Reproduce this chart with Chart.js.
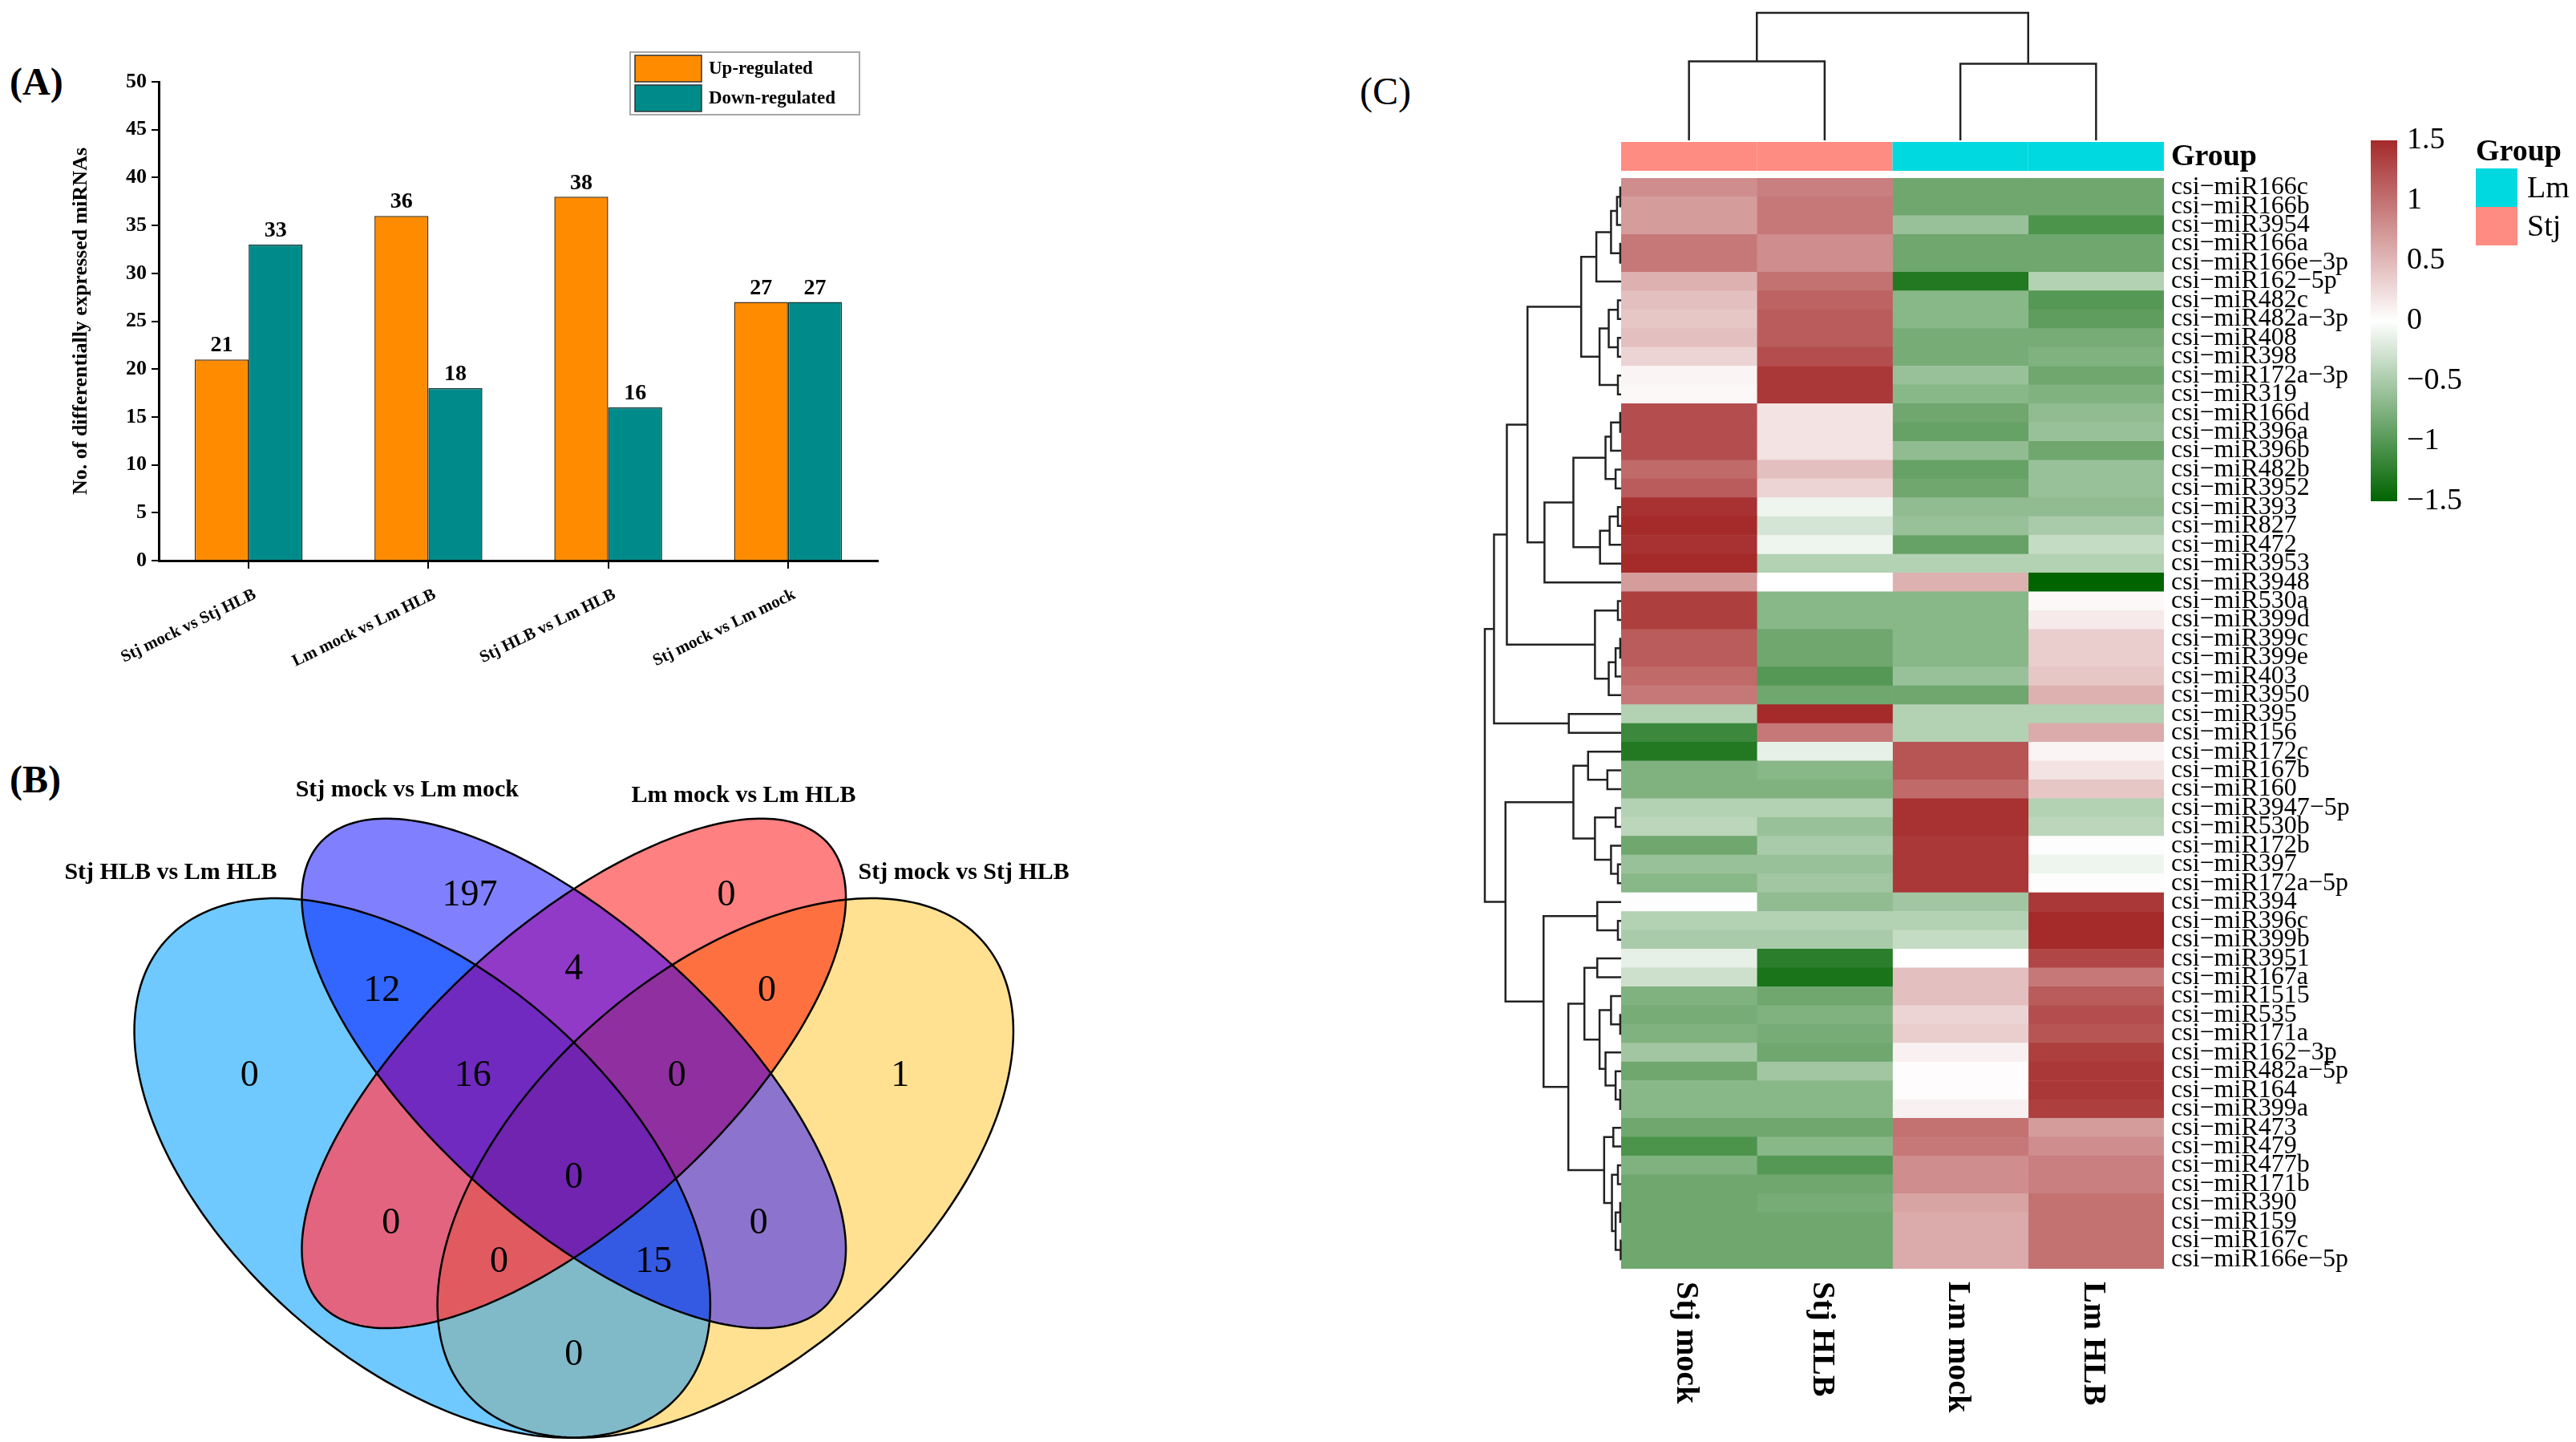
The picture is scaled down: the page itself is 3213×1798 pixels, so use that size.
<!DOCTYPE html>
<html>
<head>
<meta charset="utf-8">
<script src="https://cdn.jsdelivr.net/npm/chart.js@4.4.1/dist/chart.umd.min.js"></script>
<style>
  html, body { margin: 0; padding: 0; background: #fff; }
  body { width: 3213px; height: 1798px; position: relative; overflow: hidden;
         font-family: "Liberation Serif", "Times New Roman", serif; }
  canvas { position: absolute; }
  .tag { position: absolute; font-size: 48px; line-height: 1; color: #000; }
</style>
</head>
<body>
<div class="tag" style="left:12px;top:78px;font-weight:bold">(A)</div>
<div class="tag" style="left:12px;top:948px;font-weight:bold">(B)</div>
<div class="tag" style="left:1696px;top:90px">(C)</div>

<canvas id="barChart" width="1130" height="900" style="left:0;top:0;width:1130px;height:900px"></canvas>
<canvas id="vennChart" width="1400" height="898" style="left:0;top:900px;width:1400px;height:898px"></canvas>
<canvas id="heatChart" width="1613" height="1798" style="left:1600px;top:0;width:1613px;height:1798px"></canvas>

<script>
const SERIF = '"Liberation Serif", "Times New Roman", serif';
Chart.defaults.font.family = SERIF;
Chart.defaults.color = "#000";

// ---- (A) bar chart data
const comparisons = ["Stj mock vs Stj HLB", "Lm mock vs Lm HLB", "Stj HLB vs Lm HLB", "Stj mock vs Lm mock"];
const upRegulated = [21, 36, 38, 27];
const downRegulated = [33, 18, 16, 27];

// ---- (B) venn data
const vennSets = ["Stj HLB vs Lm HLB", "Stj mock vs Lm mock", "Lm mock vs Lm HLB", "Stj mock vs Stj HLB"];
const vennRegions = ["B", "P", "R", "Y", "BP", "PR", "RY", "BPR", "PRY", "BPRY", "BR", "PY", "BRY", "BPY", "BY"];
const vennCounts = [0, 197, 0, 1, 12, 4, 0, 16, 0, 0, 0, 0, 0, 15, 0];

// ---- (C) heatmap data
const sampleLabels = ["Stj mock", "Stj HLB", "Lm mock", "Lm HLB"];
const sampleGroups = ["Stj", "Stj", "Lm", "Lm"];
const rowLabels = ["csi-miR166c","csi-miR166b","csi-miR3954","csi-miR166a","csi-miR166e-3p","csi-miR162-5p",
  "csi-miR482c","csi-miR482a-3p","csi-miR408","csi-miR398","csi-miR172a-3p","csi-miR319","csi-miR166d",
  "csi-miR396a","csi-miR396b","csi-miR482b","csi-miR3952","csi-miR393","csi-miR827","csi-miR472","csi-miR3953",
  "csi-miR3948","csi-miR530a","csi-miR399d","csi-miR399c","csi-miR399e","csi-miR403","csi-miR3950","csi-miR395",
  "csi-miR156","csi-miR172c","csi-miR167b","csi-miR160","csi-miR3947-5p","csi-miR530b","csi-miR172b","csi-miR397",
  "csi-miR172a-5p","csi-miR394","csi-miR396c","csi-miR399b","csi-miR3951","csi-miR167a","csi-miR1515","csi-miR535",
  "csi-miR171a","csi-miR162-3p","csi-miR482a-5p","csi-miR164","csi-miR399a","csi-miR473","csi-miR479","csi-miR477b",
  "csi-miR171b","csi-miR390","csi-miR159","csi-miR167c","csi-miR166e-5p"];
const stjMock = [0.8,0.7,0.7,0.95,0.95,0.55,0.45,0.4,0.45,0.3,0.08,0.05,
  1.25,1.25,1.25,1.05,1.15,1.45,1.5,1.45,1.5,0.7,
  1.35,1.35,1.15,1.15,1.05,0.95,
  -0.45,-1.15,-1.3,-0.75,-0.75,-0.45,-0.4,-0.85,-0.6,-0.7,
  -0.02,-0.45,-0.5,-0.15,-0.3,-0.75,-0.8,-0.75,-0.55,-0.85,-0.7,-0.7,
  -0.85,-1.05,-0.75,-0.85,-0.85,-0.85,-0.85,-0.85];
const stjHLB = [0.9,0.95,0.95,0.8,0.8,1.0,1.1,1.15,1.15,1.25,1.4,1.4,
  0.2,0.2,0.2,0.45,0.3,-0.1,-0.25,-0.1,-0.45,0.0,
  -0.7,-0.7,-0.85,-0.85,-1.0,-0.85,
  1.5,0.95,-0.15,-0.7,-0.75,-0.45,-0.6,-0.5,-0.6,-0.55,
  -0.65,-0.45,-0.5,-1.25,-1.35,-0.85,-0.75,-0.8,-0.85,-0.55,-0.7,-0.7,
  -0.85,-0.7,-1.0,-0.85,-0.8,-0.85,-0.85,-0.85];
const lmMock = [-0.85,-0.85,-0.6,-0.85,-0.85,-1.3,-0.7,-0.7,-0.8,-0.8,-0.6,-0.7,
  -0.85,-0.9,-0.65,-0.9,-0.85,-0.65,-0.6,-0.9,-0.45,0.55,
  -0.7,-0.7,-0.7,-0.7,-0.6,-0.85,
  -0.45,-0.45,1.2,1.2,1.05,1.45,1.45,1.4,1.4,1.4,
  -0.55,-0.45,-0.35,0.0,0.45,0.45,0.3,0.35,0.1,0.02,0.02,0.1,
  1.0,0.95,0.8,0.8,0.65,0.6,0.6,0.6];
const lmHLB = [-0.85,-0.85,-1.05,-0.85,-0.85,-0.45,-1.0,-0.95,-0.8,-0.75,-0.85,-0.75,
  -0.65,-0.6,-0.85,-0.6,-0.6,-0.65,-0.5,-0.35,-0.45,-1.5,
  0.05,0.15,0.35,0.35,0.4,0.55,
  -0.45,0.6,0.08,0.2,0.4,-0.45,-0.4,-0.02,-0.1,-0.02,
  1.4,1.5,1.5,1.3,0.95,1.15,1.25,1.2,1.35,1.4,1.4,1.35,
  0.7,0.8,0.9,0.9,1.0,1.0,1.0,1.0];
const colorbarTicks = [1.5, 1, 0.5, 0, -0.5, -1, -1.5];

// row clustering: [height, left, right], leaves are row indexes
const rowTree = [297,
  [277,
    [249,
      [204,
        [87,
          [54, [22, [9, [2, 0, 1], 2], [2, 3, 4]], 5],
          [47, [27, [7, 6, 7], [7, 8, 9]], [7, 10, 11]]],
        [167,
          [104,
            [34, [22, [2, 12, 13], 14], [12, 15, 16]],
            [46, [25, [7, 17, 18], 19], 20]],
          21]],
      [57, [7, 22, 23], [27, [12, [2, 24, 25], 26], 27]]],
    [114, 28, 29]],
  [252,
    [104,
      [72, 30, [30, 31, 32]],
      [57, [12, 33, 34], [22, 35, [7, 36, 37]]]],
    [169,
      [52, 38, [7, 39, 40]],
      [115,
        [80, [52, 41, 42], [47, [22, 43, [2, 44, 45]], [34, 46, [12, 47, [2, 48, 49]]]]],
        [37, [17, 50, 51], [20, [7, 52, 53], [12, [2, 54, 55], [1, 56, 57]]]]]]]];
const colTree = [1.0, [0.62, 0, 1], [0.6, 2, 3]];

// ---------- (A)
const barLegend = {
  id: "barLegend",
  afterDraw(chart) {
    const ctx = chart.ctx;
    ctx.save();
    ctx.strokeStyle = "#a8a8a8";
    ctx.lineWidth = 2;
    ctx.strokeRect(786, 65, 286, 78);
    chart.data.datasets.forEach((ds, i) => {
      const y = 69 + i * 37;
      ctx.fillStyle = ds.backgroundColor;
      ctx.fillRect(792, y, 83, 33);
      ctx.strokeStyle = "#333";
      ctx.lineWidth = 1.5;
      ctx.strokeRect(792, y, 83, 33);
      ctx.fillStyle = "#000";
      ctx.font = "bold 23px " + SERIF;
      ctx.textBaseline = "middle";
      ctx.fillText(ds.label, 884, y + 17);
    });
    ctx.restore();
  },
};

const barValues = {
  id: "barValues",
  afterDatasetsDraw(chart) {
    const ctx = chart.ctx;
    ctx.save();
    ctx.font = "bold 28px " + SERIF;
    ctx.fillStyle = "#000";
    ctx.textAlign = "center";
    ctx.textBaseline = "bottom";
    chart.data.datasets.forEach((ds, i) => {
      chart.getDatasetMeta(i).data.forEach((bar, j) => ctx.fillText(ds.data[j], bar.x, bar.y - 3));
    });
    ctx.restore();
  },
};

new Chart(document.getElementById("barChart"), {
  type: "bar",
  data: {
    labels: comparisons,
    datasets: [
      { label: "Up-regulated", data: upRegulated, backgroundColor: "#FF8C00", borderColor: "#4a3010", borderWidth: 1.5 },
      { label: "Down-regulated", data: downRegulated, backgroundColor: "#008B8B", borderColor: "#103838", borderWidth: 1.5 },
    ],
  },
  options: {
    responsive: false,
    animation: false,
    devicePixelRatio: 1,
    layout: { padding: { top: 102, right: 35, left: 0, bottom: 0 } },
    datasets: { bar: { categoryPercentage: 0.6, barPercentage: 1.0 } },
    plugins: { legend: { display: false }, tooltip: { enabled: false } },
    scales: {
      x: {
        grid: { display: true, drawOnChartArea: false, offset: false, tickLength: 10, color: "#000", lineWidth: 2 },
        border: { color: "#000", width: 3 },
        ticks: { autoSkip: false, minRotation: 26, maxRotation: 26, padding: 20, labelOffset: 8,
                 font: { size: 21, weight: "bold" }, color: "#000" },
        afterFit(s) { s.height = 201; },
      },
      y: {
        min: 0, max: 50,
        ticks: { stepSize: 5, padding: 6, font: { size: 26, weight: "bold" }, color: "#000" },
        grid: { display: true, drawOnChartArea: false, tickLength: 9, color: "#000", lineWidth: 2 },
        border: { color: "#000", width: 3 },
        title: { display: true, text: "No. of differentially expressed miRNAs",
                 font: { size: 26, weight: "bold" }, color: "#000", padding: { top: 86, bottom: 0 } },
        afterFit(s) { s.width = 198; },
      },
    },
  },
  plugins: [barValues, barLegend],
});

// ---------- (B)
// ellipse geometry in unit space, keyed by set letter
const vennEllipses = {
  B: { cx: 0.35, cy: 0.47, a: 0.35, b: 0.20, rot: -45 },
  P: { cx: 0.50, cy: 0.57, a: 0.35, b: 0.15, rot: -45 },
  R: { cx: 0.50, cy: 0.57, a: 0.35, b: 0.15, rot: 45 },
  Y: { cx: 0.65, cy: 0.47, a: 0.35, b: 0.20, rot: 45 },
};
const vennSetKeys = ["B", "P", "R", "Y"];
const regionFill = {
  B: "#6FC9FF", P: "#8080FF", R: "#FF8080", Y: "#FFE191",
  BP: "#3366FF", PR: "#913AC8", RY: "#FF7040", BR: "#E2647F", PY: "#8C73CD", BY: "#80B9C8",
  BPR: "#702AC0", PRY: "#9030A0", BRY: "#E05A60", BPY: "#345AE4", BPRY: "#7024B0",
};
const vennLabelPos = [[0.179,0.567],[0.397,0.758],[0.651,0.758],[0.823,0.567],[0.310,0.657],[0.50,0.680],
  [0.691,0.657],[0.40,0.567],[0.602,0.567],[0.50,0.459],[0.319,0.411],[0.683,0.411],[0.426,0.370],
  [0.579,0.370],[0.50,0.272]];
const vennSetLabelPos = [[0.101, 0.782], [0.335, 0.869], [0.668, 0.863], [0.886, 0.782]];

const vennPlugin = {
  id: "venn",
  afterDatasetsDraw(chart) {
    const { ctx, scales: { x, y } } = chart;
    const path = (e) => {
      const r = (e.rot * Math.PI) / 180;
      ctx.beginPath();
      for (let k = 0; k <= 240; k++) {
        const t = (k / 240) * 2 * Math.PI;
        const u = e.cx + e.a * Math.cos(t) * Math.cos(r) - e.b * Math.sin(t) * Math.sin(r);
        const v = e.cy + e.a * Math.cos(t) * Math.sin(r) + e.b * Math.sin(t) * Math.cos(r);
        const px = x.getPixelForValue(u), py = y.getPixelForValue(v);
        if (k) ctx.lineTo(px, py); else ctx.moveTo(px, py);
      }
      ctx.closePath();
    };
    // paint each region: intersection of its sets, fewer sets first
    const order = [...vennRegions].sort((a, b) => a.length - b.length);
    order.forEach((reg) => {
      ctx.save();
      reg.split("").forEach((k) => { path(vennEllipses[k]); ctx.clip(); });
      ctx.fillStyle = regionFill[reg];
      ctx.fillRect(0, 0, chart.width, chart.height);
      ctx.restore();
    });
    ctx.save();
    ctx.strokeStyle = "#000";
    ctx.lineWidth = 2.5;
    vennSetKeys.forEach((k) => { path(vennEllipses[k]); ctx.stroke(); });

    ctx.fillStyle = "#000";
    ctx.textAlign = "center";
    ctx.textBaseline = "middle";
    ctx.font = "46px " + SERIF;
    chart.getDatasetMeta(0).data.forEach((pt, i) => ctx.fillText(String(vennCounts[i]), pt.x, pt.y));
    ctx.font = "bold 30px " + SERIF;
    vennSets.forEach((name, i) => {
      const p = vennSetLabelPos[i];
      ctx.fillText(name, x.getPixelForValue(p[0]), y.getPixelForValue(p[1]));
    });
    ctx.restore();
  },
};

new Chart(document.getElementById("vennChart"), {
  type: "scatter",
  data: { datasets: [{ label: "regions", data: vennLabelPos.map((p) => ({ x: p[0], y: p[1] })), pointRadius: 0 }] },
  options: {
    responsive: false,
    animation: false,
    devicePixelRatio: 1,
    layout: { padding: 0 },
    plugins: { legend: { display: false }, tooltip: { enabled: false } },
    scales: {
      x: { type: "linear", display: false, min: -0.068, max: 1.043 },
      y: { type: "linear", display: false, min: 0.1805, max: 0.9415 },
    },
  },
  plugins: [vennPlugin],
});

// ---------- (C)
const LOW = [0, 100, 0], MID = [255, 255, 255], HIGH = [165, 42, 42];
function heatColor(v) {
  const t = Math.max(-1, Math.min(1, v / 1.5));
  const end = t < 0 ? LOW : HIGH, k = Math.abs(t);
  return "rgb(" + MID.map((m, i) => Math.round(m + (end[i] - m) * k)).join(",") + ")";
}
const groupColors = { Lm: "#00D9E0", Stj: "#FF8C82" };
const minus = (s) => String(s).replace(/-/g, "\u2212");

function drawTree(ctx, node, leafPos, heightPos, horizontal) {
  if (typeof node === "number") return { p: leafPos(node), h: heightPos(0) };
  const [ht, l, r] = node;
  const a = drawTree(ctx, l, leafPos, heightPos, horizontal);
  const b = drawTree(ctx, r, leafPos, heightPos, horizontal);
  const h = heightPos(ht);
  const pt = (hh, pp) => (horizontal ? [hh, pp] : [pp, hh]);
  ctx.beginPath();
  ctx.moveTo(...pt(a.h, a.p));
  ctx.lineTo(...pt(h, a.p));
  ctx.lineTo(...pt(h, b.p));
  ctx.lineTo(...pt(b.h, b.p));
  ctx.stroke();
  return { p: (a.p + b.p) / 2, h };
}

const heatExtras = {
  id: "heatExtras",
  afterDraw(chart) {
    const { ctx, chartArea: area, scales: { x, y } } = chart;
    ctx.save();
    // group annotation bar
    sampleGroups.forEach((g, c) => {
      const x0 = x.getPixelForValue(c), x1 = x.getPixelForValue(c + 1);
      ctx.fillStyle = groupColors[g];
      ctx.fillRect(x0, 177, x1 - x0, 36);
    });
    ctx.fillStyle = "#000";
    ctx.font = "bold 38px " + SERIF;
    ctx.textBaseline = "middle";
    ctx.fillText("Group", area.right + 9, 196);

    // dendrograms
    ctx.strokeStyle = "#222";
    ctx.lineWidth = 2.5;
    drawTree(ctx, rowTree, (i) => y.getPixelForValue(i), (h) => area.left - (h * 170) / 297, true);
    drawTree(ctx, colTree, (c) => x.getPixelForValue(c + 0.5), (h) => 175 - h * 159, false);

    // column labels
    ctx.font = "bold 40px " + SERIF;
    ctx.textAlign = "left";
    sampleLabels.forEach((lab, c) => {
      ctx.save();
      ctx.translate(x.getPixelForValue(c + 0.5) - 4, 1598);
      ctx.rotate(Math.PI / 2);
      ctx.fillText(lab, 0, 0);
      ctx.restore();
    });

    // colour key
    const cbTop = 175, cbBot = 625, cbX = 1357, cbW = 33;
    const grad = ctx.createLinearGradient(0, cbTop, 0, cbBot);
    for (let k = 0; k <= 12; k++) grad.addColorStop(k / 12, heatColor(1.5 - (3 * k) / 12));
    ctx.fillStyle = grad;
    ctx.fillRect(cbX, cbTop, cbW, cbBot - cbTop);
    ctx.fillStyle = "#000";
    ctx.font = "38px " + SERIF;
    colorbarTicks.forEach((v) => {
      ctx.fillText(minus(v), cbX + 45, cbTop + ((1.5 - v) / 3) * (cbBot - cbTop));
    });

    // group legend
    ctx.font = "bold 38px " + SERIF;
    ctx.fillText("Group", 1488, 190);
    ctx.font = "38px " + SERIF;
    ["Lm", "Stj"].forEach((g, i) => {
      ctx.fillStyle = groupColors[g];
      ctx.fillRect(1488, 210 + i * 48, 52, 48);
      ctx.fillStyle = "#000";
      ctx.fillText(g, 1552, 236 + i * 48);
    });
    ctx.restore();
  },
};

const sampleValues = [stjMock, stjHLB, lmMock, lmHLB];
new Chart(document.getElementById("heatChart"), {
  type: "bar",
  data: {
    labels: rowLabels,
    datasets: sampleValues.map((vals, c) => ({
      label: sampleLabels[c],
      data: vals.map(() => [c, c + 1]),
      backgroundColor: vals.map(heatColor),
      borderWidth: 0,
      grouped: false,
      categoryPercentage: 1,
      barPercentage: 1,
    })),
  },
  options: {
    indexAxis: "y",
    responsive: false,
    animation: false,
    devicePixelRatio: 1,
    layout: { padding: { left: 422, top: 222, right: 0, bottom: 216 } },
    plugins: { legend: { display: false }, tooltip: { enabled: false } },
    scales: {
      x: { type: "linear", min: 0, max: 4, display: false },
      y: {
        position: "right",
        grid: { display: false, drawTicks: false },
        border: { display: false },
        ticks: { autoSkip: false, padding: 9, font: { size: 32 }, color: "#000",
                 callback: (v, i) => minus(rowLabels[i]) },
        afterFit(s) { s.width = 514; },
      },
    },
  },
  plugins: [heatExtras],
});
</script>
</body>
</html>
